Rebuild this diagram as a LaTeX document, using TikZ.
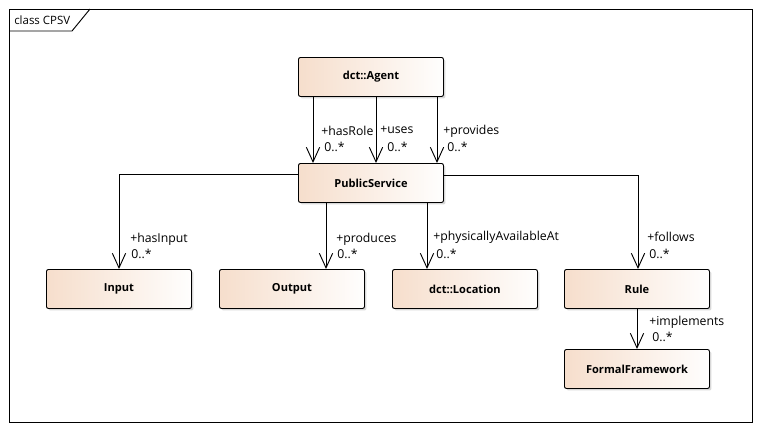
\documentclass[tikz,border=0pt]{standalone}
\usepackage{fontspec}
\setmainfont{Open Sans}
\usetikzlibrary{arrows.meta,shadows}
\definecolor{peach}{RGB}{246,222,204}
\definecolor{shadowgray}{RGB}{190,190,190}
\tikzset{
  cls/.style={draw=black, line width=0.7pt, rounded corners=1.5pt,
    left color=peach, right color=white!97!peach,
    drop shadow={shadow xshift=1.5pt, shadow yshift=-1.5pt, fill=shadowgray, opacity=0.6},
    minimum width=145*0.75pt, minimum height=39*0.75pt, inner sep=0pt,
    font=\fontsize{8.3pt}{10pt}\selectfont\bfseries, anchor=north west},
  assoc/.style={draw=black, line width=0.7pt, -{Straight Barb[length=11pt, width=10pt, line width=0.7pt]}},
  lbl/.style={font=\fontsize{9.2pt}{11pt}\selectfont, inner sep=0pt, anchor=west},
}
\begin{document}
\begin{tikzpicture}[x=0.75pt, y=-0.75pt]
\useasboundingbox (0,0) rectangle (759,430);
% frame
\draw[line width=0.7pt] (9,9) rectangle (752,422);
\draw[line width=0.7pt] (9,31) -- (72,31) -- (90,9);
\node[font=\fontsize{8.6pt}{10pt}\selectfont, anchor=west, inner sep=0pt] (title) at (14,20) {class CPSV};
% classes
\node[cls] (agent) at (298,57) {dct::Agent};
\node[cls] (ps) at (298,163) {PublicService};
\node[cls] (input) at (46,269) {Input};
\node[cls] (output) at (219,269) {Output};
\node[cls] (loc) at (392,269) {dct::Location};
\node[cls] (rule) at (564,269) {Rule};
\node[cls] (ff) at (564,349) {FormalFramework};
% helper coordinates
\coordinate (a1) at (313,0);
\coordinate (a2) at (376,0);
\coordinate (a3) at (437,0);
% Agent -> PublicService
\draw[assoc] (agent.south -| a1) -- (ps.north -| a1);
\draw[assoc] (agent.south -| a2) -- (ps.north -| a2);
\draw[assoc] (agent.south -| a3) -- (ps.north -| a3);
\node[lbl] (l1) at (321,131) {+hasRole};
\node[lbl] (m1) at (324,147) {0..*};
\node[lbl] (l2) at (380,130) {+uses};
\node[lbl] (m2) at (387,147) {0..*};
\node[lbl] (l3) at (443,131) {+provides};
\node[lbl] (m3) at (447,147) {0..*};
% PublicService -> Input
\coordinate (ci) at (119,174);
\draw[assoc] (ps.west |- ci) -- (ci) -- (input.north -| ci);
\node[lbl] (l4) at (130,239) {+hasInput};
\node[lbl] (m4) at (131,254) {0..*};
% PublicService -> Output
\coordinate (co) at (326,0);
\draw[assoc] (ps.south -| co) -- (output.north -| co);
\node[lbl] (l5) at (336,239) {+produces};
\node[lbl] (m5) at (337,254) {0..*};
% PublicService -> Location
\coordinate (cl) at (427,0);
\draw[assoc] (ps.south -| cl) -- (loc.north -| cl);
\node[lbl] (l6) at (433,237) {+physicallyAvailableAt};
\node[lbl] (m6) at (436,254) {0..*};
% PublicService -> Rule
\coordinate (cr) at (638,175);
\draw[assoc] (ps.east |- cr) -- (cr) -- (rule.north -| cr);
\node[lbl] (l7) at (647,237) {+follows};
\node[lbl] (m7) at (649,254) {0..*};
% Rule -> FormalFramework
\coordinate (cf) at (637,0);
\draw[assoc] (rule.south -| cf) -- (ff.north -| cf);
\node[lbl] (l8) at (649,322) {+implements};
\node[lbl] (m8) at (652,337) {0..*};
\end{tikzpicture}
\end{document}
